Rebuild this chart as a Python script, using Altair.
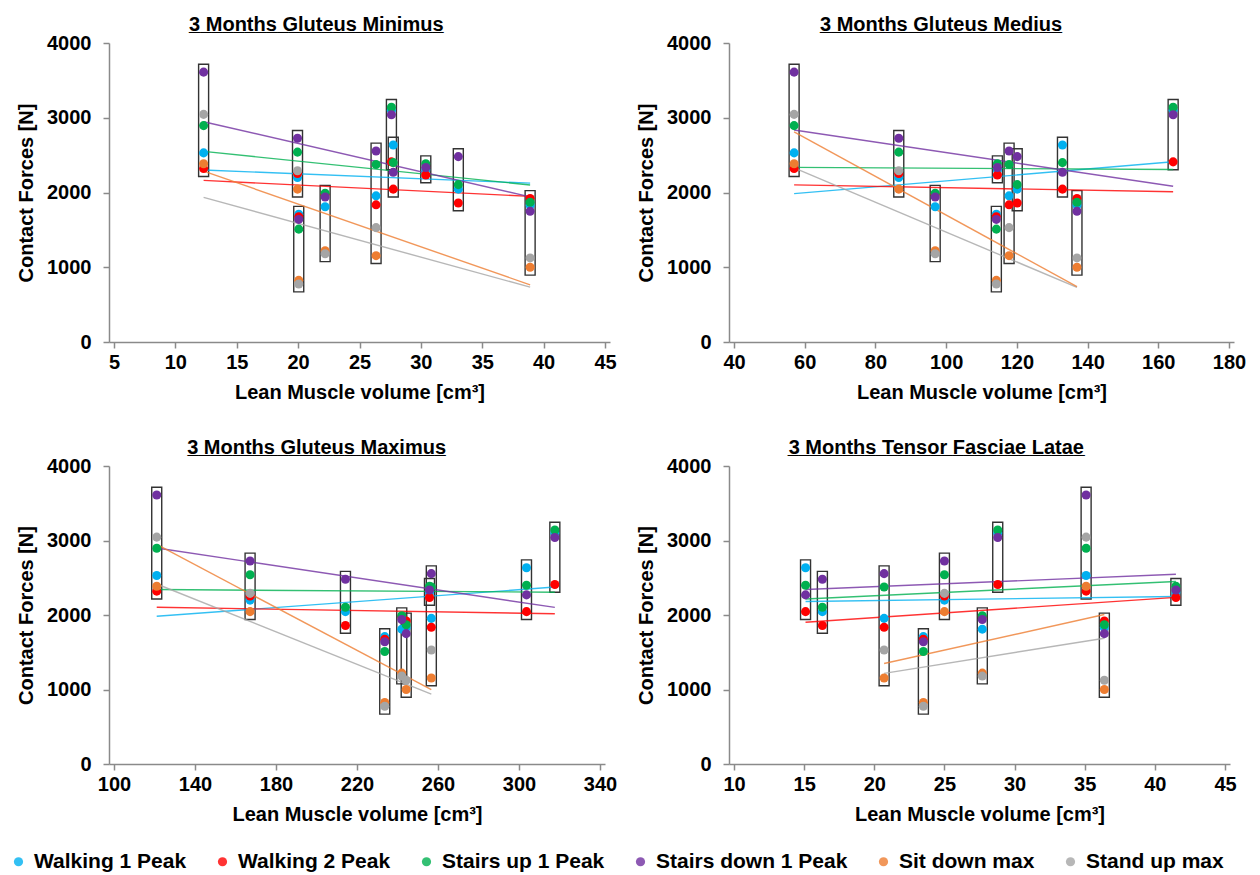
import altair as alt
import pandas as pd

FONT = "Liberation Sans"

subjects = ["S1", "S2", "S3", "S4", "S5", "S6", "S7", "S8", "S9", "S10"]

series_names = ["Walking 1 Peak", "Walking 2 Peak", "Stairs up 1 Peak",
                "Stairs down 1 Peak", "Sit down max", "Stand up max"]
series_colors = ["#00B0F0", "#FF0000", "#00B050", "#7030A0", "#ED7D31", "#A5A5A5"]

# contact forces [N] per subject (None = not measured)
walking1 = [2530, 2200, 1710, 1810, 1955, 3100, 2635, 2300, 2045, 1830]
walking2 = [2320, 2255, 1675, 1975, 1835, 2410, 2045, 2235, 1860, 1920]
stairs_up = [2895, 2540, 1510, 1990, 2375, 3140, 2400, 2385, 2105, 1870]
stairs_down = [3610, 2725, 1640, 1940, 2555, 3040, 2270, 2335, 2480, 1750]
sit_down = [2385, 2045, 825, 1220, 1155, None, None, None, None, 1000]
stand_up = [3045, 2290, 775, 1180, 1530, None, None, None, None, 1125]
forces = [walking1, walking2, stairs_up, stairs_down, sit_down, stand_up]

# lean muscle volume [cm3] per subject and muscle
vol_minimus = [12.3, 19.95, 20.05, 22.2, 26.35, 27.6, 27.75, 30.4, 33.05, 38.9]
vol_medius = [57.0, 86.6, 114.2, 96.9, 117.8, 164.2, 132.9, 114.5, 120.1, 137.0]
vol_maximus = [121.1, 167.2, 233.7, 242.1, 256.7, 317.7, 303.7, 255.8, 214.3, 244.3]
vol_tfl = [35.1, 25.0, 23.5, 27.7, 20.7, 28.8, 15.1, 41.5, 16.3, 36.4]

panel_titles = ["3 Months Gluteus Minimus", "3 Months Gluteus Medius",
                "3 Months Gluteus Maximus", "3 Months Tensor Fasciae Latae"]
# underline made of underscores: count and font size per title
underline_counts = [23, 22, 23, 27]
underline_sizes = [19.9, 19.8, 20.2, 19.8]
panel_volumes = [vol_minimus, vol_medius, vol_maximus, vol_tfl]
x_domains = [[5, 45], [40, 180], [100, 340], [10, 45]]
x_ticks = [[5, 10, 15, 20, 25, 30, 35, 40, 45],
           [40, 60, 80, 100, 120, 140, 160, 180],
           [100, 140, 180, 220, 260, 300, 340],
           [10, 15, 20, 25, 30, 35, 40, 45]]
y_ticks = [0, 1000, 2000, 3000, 4000]

rows = []
for p, vols in enumerate(panel_volumes):
    for s, vals in zip(series_names, forces):
        for subj, v, f in zip(subjects, vols, vals):
            if f is None:
                continue
            rows.append({"panel": p, "subject": subj, "volume": v, "series": s, "force": f})
df = pd.DataFrame(rows)

color_scale = alt.Scale(domain=series_names, range=series_colors)


def panel(i, width, height):
    base = alt.Chart(df).transform_filter(alt.datum.panel == i)
    xenc = alt.X("volume:Q",
                 scale=alt.Scale(domain=x_domains[i], nice=False, zero=False),
                 axis=alt.Axis(values=x_ticks[i], format="d",
                               title="Lean Muscle volume [cm³]"))

    def yenc(field):
        return alt.Y(field,
                     scale=alt.Scale(domain=[0, 4000], nice=False),
                     axis=alt.Axis(values=y_ticks, format="d",
                                   title="Contact Forces [N]"))

    boxes = (base
             .transform_aggregate(lo="min(force)", hi="max(force)",
                                  groupby=["subject", "volume"])
             .transform_calculate(blo="datum.lo - 105", bhi="datum.hi + 105")
             .mark_bar(orient="vertical", size=10, fillOpacity=0,
                       stroke="#333333", strokeWidth=1.4)
             .encode(x=xenc, y=yenc("blo:Q"), y2="bhi:Q"))

    # in the original figure the sit-down and stand-up trendline colours are swapped
    lines = (base
             .transform_regression("volume", "force", groupby=["series"])
             .transform_calculate(
                 trend_color="datum.series == 'Sit down max' ? 'Stand up max' : "
                             "(datum.series == 'Stand up max' ? 'Sit down max' : datum.series)")
             .mark_line(strokeWidth=1.4, opacity=0.8)
             .encode(x=xenc, y=yenc("force:Q"),
                     color=alt.Color("trend_color:N", scale=color_scale)))

    points = (base
              .mark_circle(size=82, opacity=1)
              .encode(x=xenc, y=yenc("force:Q"),
                      color=alt.Color("series:N", scale=color_scale)))

    return alt.layer(boxes, lines, points).properties(
        width=width, height=height,
        title=alt.Title(panel_titles[i], anchor="middle", frame="bounds",
                        fontSize=20, font=FONT, fontWeight="bold", color="black",
                        subtitle="_" * underline_counts[i],
                        subtitleFont=FONT, subtitleFontSize=underline_sizes[i],
                        subtitleFontWeight="bold", subtitleColor="black",
                        subtitlePadding=-21, offset=-3))


row1 = alt.hconcat(panel(0, 501, 299), panel(1, 505, 299), spacing=119, bounds="flush")
row2 = alt.hconcat(panel(2, 496, 298), panel(3, 501, 298), spacing=124, bounds="flush")

chart = (alt.vconcat(row1, row2, spacing=35)
         .properties(padding={"left": 8, "top": 14, "right": 5, "bottom": 0},
                     background="white")
         .configure_view(stroke=None)
         .configure_axis(labelFont=FONT, labelFontSize=20, labelFontWeight="bold",
                         labelColor="black", titleFont=FONT, titleFontSize=20,
                         titleFontWeight="bold", titleColor="black",
                         domainColor="#8a8a8a", domainWidth=1.5,
                         tickColor="#8a8a8a", tickWidth=1.5, tickSize=6,
                         grid=False, labelPadding=4, titlePadding=10,
                         labelFlush=False, labelOverlap=False)
         .configure_axisY(labelPadding=12)
         .configure_legend(orient="none", legendX=-101, legendY=808,
                           direction="horizontal", title=None,
                           labelFont=FONT, labelFontSize=21, labelFontWeight="bold",
                           labelColor="black", symbolType="circle", symbolSize=85,
                           symbolStrokeWidth=0, columnPadding=25, labelOffset=5,
                           labelLimit=400))

chart.save("out.html", embed_options={"renderer": "svg", "actions": False})
